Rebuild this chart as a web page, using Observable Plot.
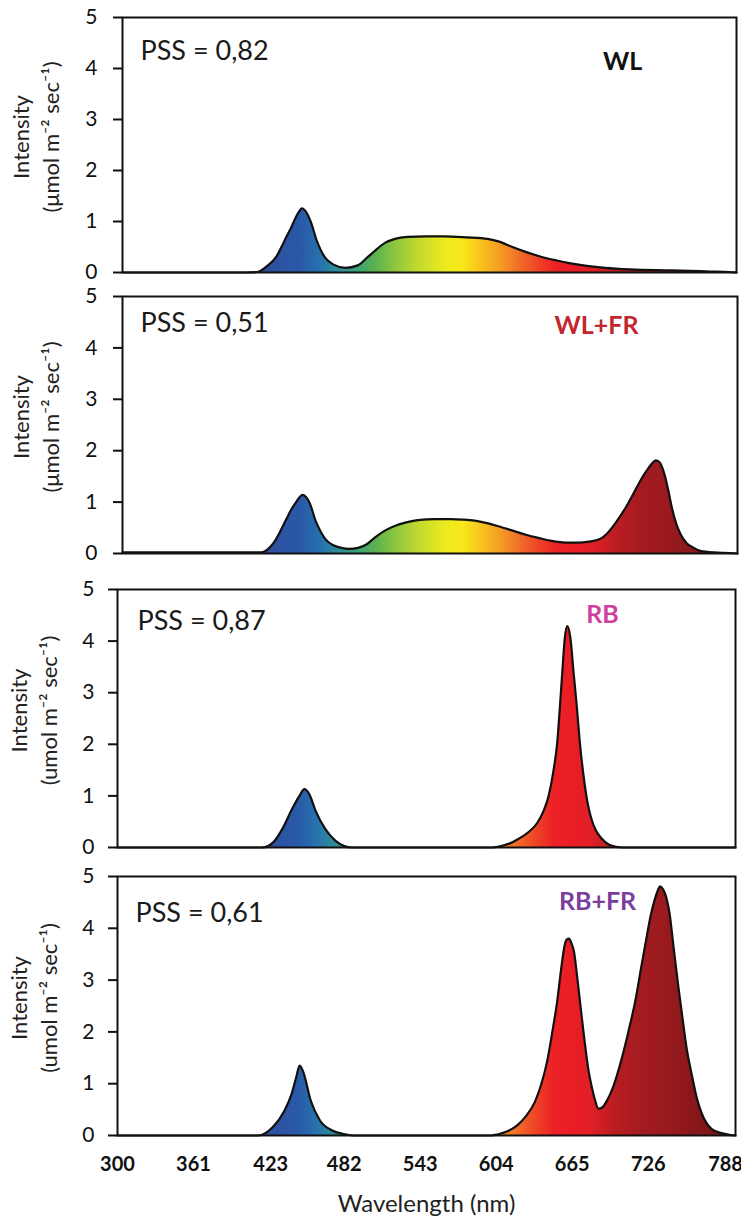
<!DOCTYPE html>
<html><head><meta charset="utf-8">
<script src="https://cdn.jsdelivr.net/npm/d3@7"></script>
<script src="https://cdn.jsdelivr.net/npm/@observablehq/plot@0.6"></script>
<style>
body{margin:0;background:#fff;}
#chart svg{display:block;}
</style></head><body><div id="chart"></div>
<script>
// ---- data ----
const xTicks = [300, 361, 423, 482, 543, 604, 665, 726, 788];
const yTicks = [0, 1, 2, 3, 4, 5];

const wlWave  = [300, 350, 400, 409, 417, 424, 428, 432, 436, 440, 443, 445, 448, 452, 457, 464, 471, 480, 490, 498, 505, 512, 520, 530, 545, 560, 578, 595, 605, 615, 625, 638, 650, 662, 675, 690, 710, 743, 775, 790, 796];
const wlValue = [0, 0, 0, 0.01, 0.13, 0.3, 0.48, 0.68, 0.87, 1.08, 1.21, 1.26, 1.2, 1.0, 0.62, 0.28, 0.15, 0.09, 0.14, 0.3, 0.45, 0.58, 0.66, 0.7, 0.71, 0.71, 0.69, 0.66, 0.6, 0.5, 0.41, 0.31, 0.24, 0.18, 0.13, 0.09, 0.06, 0.04, 0.02, 0.01, 0];

const wlfrWave  = [300, 340, 380, 412, 418, 422, 427, 432, 436, 440, 443, 445, 448, 451, 456, 460, 464, 470, 475, 483, 490, 497, 504, 512, 519, 528, 538, 552, 565, 575, 584, 594, 603, 614, 626, 636, 645, 653, 660, 668, 676, 685, 692, 699, 706, 712, 718, 723, 727, 730, 733, 737, 740, 743, 747, 750, 755, 760, 766, 777, 790, 796];
const wlfrValue = [0.02, 0.02, 0.02, 0.02, 0.1, 0.21, 0.42, 0.66, 0.85, 1.0, 1.1, 1.14, 1.1, 0.98, 0.62, 0.42, 0.27, 0.16, 0.12, 0.09, 0.11, 0.18, 0.32, 0.45, 0.53, 0.6, 0.65, 0.67, 0.67, 0.66, 0.64, 0.59, 0.53, 0.45, 0.36, 0.3, 0.25, 0.22, 0.21, 0.21, 0.23, 0.28, 0.42, 0.64, 0.9, 1.16, 1.43, 1.62, 1.75, 1.81, 1.78, 1.55, 1.25, 0.9, 0.55, 0.38, 0.2, 0.12, 0.05, 0.02, 0.01, 0];

const rbWave  = [300, 400, 416, 425, 433, 440, 446, 450, 454, 459, 467, 475, 482, 488, 500, 590, 600, 608, 615, 622, 630, 637, 642, 646, 650, 653, 655, 657, 659, 661, 663.5, 666, 668.5, 671, 674, 677, 680, 684, 688, 695, 705, 720, 796];
const rbValue = [0, 0, 0, 0.1, 0.39, 0.74, 1.0, 1.13, 1.03, 0.71, 0.35, 0.13, 0.03, 0, 0, 0, 0, 0.03, 0.08, 0.17, 0.3, 0.48, 0.71, 1.0, 1.5, 2.05, 2.7, 3.4, 4.06, 4.29, 4.06, 3.4, 2.77, 2.05, 1.4, 0.9, 0.58, 0.33, 0.19, 0.05, 0, 0, 0];

const rbfrWave  = [300, 400, 413, 424.5, 434, 439.7, 443.5, 446.2, 449.2, 455, 462.5, 472, 483.5, 489, 600, 605, 613, 621, 628, 635, 640, 645, 649, 653, 656, 658.6, 660.5, 662.4, 664.5, 666.2, 669, 672, 675, 677.6, 681, 683.3, 686, 689, 693, 698, 704.3, 710, 715.7, 720, 725.2, 728, 731, 733.5, 735.5, 738, 740.4, 743, 746, 750, 753.7, 757, 761.3, 765, 769, 776.6, 784, 792, 796];
const rbfrValue = [0, 0, 0, 0.16, 0.48, 0.8, 1.13, 1.35, 1.22, 0.68, 0.29, 0.1, 0.02, 0, 0, 0.02, 0.08, 0.2, 0.38, 0.65, 0.98, 1.45, 2.0, 2.61, 3.2, 3.64, 3.78, 3.8, 3.7, 3.57, 3.05, 2.41, 1.8, 1.32, 0.9, 0.68, 0.52, 0.54, 0.68, 0.95, 1.45, 2.0, 2.61, 3.2, 3.9, 4.25, 4.54, 4.72, 4.81, 4.75, 4.6, 4.3, 3.7, 2.9, 2.22, 1.65, 1.13, 0.72, 0.42, 0.13, 0.05, 0.01, 0];

const panelNames = ["WL", "WL+FR", "RB", "RB+FR"];
const pssLabels = ["PSS = 0,82", "PSS = 0,51", "PSS = 0,87", "PSS = 0,61"];
const nameColors = ["#111111", "#c1272d", "#cf3f9e", "#7b3e9d"];
const yTitles = ["Intensity\n(μmol m⁻² sec⁻¹)", "Intensity\n(μmol m⁻² sec⁻¹)", "Intensity\n(umol m⁻² sec⁻¹)", "Intensity\n(umol m⁻² sec⁻¹)"];

// wavelength -> fill colour stops of the spectrum gradient
const stopWave  = [300, 420, 445, 460, 475, 490, 505, 520, 540, 560, 575, 590, 605, 620, 635, 650, 665, 680, 700, 720, 740, 770, 796];
const stopColor = ["#2d4f9e", "#2d4f9e", "#2a5aa8", "#2672ad", "#2f8f9a", "#3ba375", "#5cb24e", "#8cc63f", "#c4da2e", "#ecea1f", "#f7e81a", "#f8c21e", "#f59d24", "#f07028", "#ee4727", "#ec2125", "#ea1d25", "#e11f26", "#b81d22", "#a31b20", "#9a1a1e", "#821719", "#701314"];

const waves = [wlWave, wlfrWave, rbWave, rbfrWave];
const values = [wlValue, wlfrValue, rbValue, rbfrValue];

// ---- layout ----
const layout = [
  {h: 280, ml: 122, mr: 5, mt: 17, mb: 8,  tp: 16, pssDx: 18, pssDy: 23, nameDx: 500, nameDy: 35, titleDx: -88, titleDy: -8},
  {h: 285, ml: 122, mr: 4, mt: 16, mb: 12, tp: 16, pssDx: 18, pssDy: 16, nameDx: 474, nameDy: 20, titleDx: -88, titleDy: -8},
  {h: 292, ml: 117, mr: 6, mt: 24, mb: 10, tp: 14, pssDx: 20, pssDy: 21, nameDx: 485, nameDy: 16, titleDx: -85, titleDy: -8},
  {h: 360, ml: 117, mr: 6, mt: 19, mb: 82, tp: 14, pssDx: 18, pssDy: 26, nameDx: 480, nameDy: 16, titleDx: -85, titleDy: -8}
];

const fontFam = "Lato, 'Open Sans', 'DejaVu Sans', sans-serif";

function makePanel(i) {
  const L = layout[i];
  const data = waves[i].map((w, k) => ({w, v: values[i][k]}));
  const gid = "spec" + i;
  const marks = [
    Plot.areaY(data, {x: "w", y: "v", fill: `url(#${gid})`, curve: "monotone-x"}),
    Plot.lineY(data, {x: "w", y: "v", stroke: "#111", strokeWidth: 2.2, curve: "monotone-x"}),
    Plot.frame({stroke: "#111", strokeWidth: 2}),
    Plot.axisY({ticks: yTicks, tickSize: 9, tickPadding: L.tp, fontSize: 21, label: null, strokeWidth: 2, tickFormat: d => String(d)}),
    Plot.text([pssLabels[i]], {text: d => d, frameAnchor: "top-left", textAnchor: "start", lineAnchor: "top", dx: L.pssDx, dy: L.pssDy, fontSize: 27, fill: "#1a1a1a"}),
    Plot.text([panelNames[i]], {text: d => d, frameAnchor: "top-left", textAnchor: "middle", lineAnchor: "top", dx: L.nameDx, dy: L.nameDy, fontSize: 25, fontWeight: "bold", fill: nameColors[i]}),
    Plot.text([yTitles[i]], {text: d => d, frameAnchor: "left", textAnchor: "middle", lineAnchor: "middle", rotate: -90, dx: L.titleDx, dy: L.titleDy, fontSize: 22, lineHeight: 1.35, fill: "#222"})
  ];
  if (i === 3) {
    marks.push(Plot.axisX({ticks: xTicks, tickSize: 0, tickPadding: 21, fontSize: 20, fontWeight: "bold", label: null, tickFormat: d => String(d)}));
    marks.push(Plot.text(["Wavelength (nm)"], {text: d => d, frameAnchor: "bottom", lineAnchor: "top", dy: 59, fontSize: 24, fill: "#222"}));
  }
  const svg = Plot.plot({
    width: 741, height: L.h,
    marginLeft: L.ml, marginRight: L.mr, marginTop: L.mt, marginBottom: L.mb,
    x: {domain: [300, 796], axis: null},
    y: {domain: [0, 5], axis: null},
    style: {fontFamily: fontFam, background: "white", color: "#111", overflow: "visible"},
    marks
  });
  const xs = svg.scale("x");
  const x0 = xs.apply(300), x1 = xs.apply(796);
  const grad = d3.select(svg).insert("defs", ":first-child")
    .append("linearGradient").attr("id", gid)
    .attr("gradientUnits", "userSpaceOnUse")
    .attr("x1", x0).attr("x2", x1).attr("y1", 0).attr("y2", 0);
  stopWave.forEach((w, k) => grad.append("stop")
    .attr("offset", (xs.apply(w) - x0) / (x1 - x0))
    .attr("stop-color", stopColor[k]));
  return svg;
}

const root = document.getElementById("chart");
for (let i = 0; i < 4; i++) root.appendChild(makePanel(i));
</script></body></html>
